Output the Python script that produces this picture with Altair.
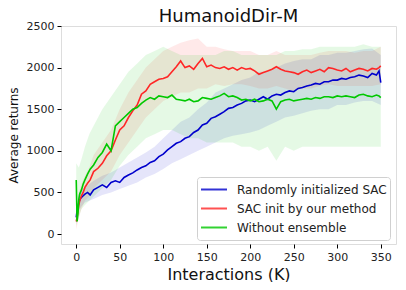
import altair as alt
import pandas as pd

SERIES = ["Randomly initialized SAC", "SAC init by our method", "Without ensemble"]
COLORS = ["#0000cc", "#ff2626", "#00c800"]

# line x grid (K interactions)
X = [0, 1, 2, 3, 4, 6, 8, 10, 13, 16, 20, 25, 30, 35, 40, 45, 50, 55, 60, 65, 70, 75,
     80, 85, 90, 95, 100, 105, 110, 115, 120, 125, 130, 135, 140, 145, 150, 155, 160,
     165, 170, 175, 180, 185, 190, 195, 200, 205, 210, 215, 220, 225, 230, 235, 240,
     245, 250, 255, 260, 265, 270, 275, 280, 285, 290, 295, 300, 305, 310, 315, 320,
     325, 330, 335, 340, 345, 348, 350]

BLUE = [200, 280, 330, 380, 410, 440, 460, 480, 500, 470, 530, 560, 590, 560, 620, 640,
        620, 680, 710, 735, 770, 800, 820, 860, 880, 930, 960, 1010, 1050, 1090, 1110,
        1150, 1170, 1220, 1250, 1310, 1330, 1390, 1410, 1440, 1470, 1510, 1520, 1550,
        1570, 1600, 1610, 1590, 1620, 1650, 1620, 1660, 1680, 1670, 1700, 1720, 1710,
        1750, 1760, 1780, 1790, 1810, 1800, 1830, 1830, 1850, 1850, 1870, 1860, 1880,
        1890, 1910, 1900, 1880, 1930, 1910, 1960, 1820]

RED = [150, 200, 280, 350, 400, 460, 500, 560, 610, 650, 750, 790, 850, 940, 1000, 1130,
       1250, 1300, 1400, 1480, 1550, 1680, 1720, 1800, 1830, 1860, 1870, 1890, 1950,
       2010, 2080, 2000, 2020, 1980, 2050, 2110, 2010, 2030, 2000, 1990, 2010, 1980,
       2000, 1970, 2000, 1980, 1990, 1960, 1920, 1940, 1960, 1980, 2010, 1980, 1960,
       1950, 1940, 1920, 1950, 1970, 1940, 1960, 1980, 1950, 2000, 1990, 1970, 1960,
       1990, 1950, 1970, 1990, 1980, 1960, 1990, 1980, 2000, 2020]

GREEN = [650, 150, 250, 420, 480, 530, 600, 650, 720, 780, 830, 920, 980, 1080, 1000,
         1300, 1350, 1400, 1450, 1500, 1520, 1570, 1610, 1640, 1620, 1660, 1650, 1640,
         1670, 1620, 1610, 1600, 1620, 1590, 1600, 1640, 1630, 1620, 1640, 1660, 1690,
         1650, 1660, 1640, 1610, 1620, 1600, 1620, 1590, 1600, 1620, 1600, 1500, 1590,
         1610, 1620, 1600, 1610, 1620, 1630, 1620, 1640, 1630, 1650, 1650, 1640, 1660,
         1650, 1660, 1650, 1640, 1670, 1680, 1660, 1650, 1670, 1660, 1640]

# band x grid
BX = [0, 3, 6, 10, 15, 20, 30, 40, 50, 60, 70, 80, 90, 100, 110, 120, 130, 140, 150,
      160, 170, 180, 190, 200, 210, 220, 230, 240, 250, 260, 270, 280, 290, 300, 310,
      320, 330, 340, 350]

BLUE_LO = [120, 280, 330, 380, 400, 420, 470, 500, 540, 580, 620, 680, 720, 780, 850,
           900, 950, 1000, 1050, 1100, 1150, 1180, 1200, 1220, 1250, 1300, 1350, 1400,
           1420, 1450, 1480, 1500, 1500, 1550, 1550, 1580, 1600, 1600, 1550]
BLUE_HI = [300, 480, 540, 560, 600, 640, 700, 740, 800, 860, 920, 980, 1050, 1150, 1250,
           1350, 1400, 1500, 1580, 1700, 1750, 1800, 1850, 1880, 1950, 1950, 2000, 2050,
           2080, 2100, 2100, 2150, 2150, 2180, 2180, 2200, 2220, 2230, 2150]

RED_LO = [50, 200, 300, 400, 450, 550, 650, 750, 950, 1100, 1250, 1400, 1500, 1600, 1650,
          1700, 1700, 1750, 1750, 1800, 1780, 1800, 1800, 1780, 1750, 1750, 1780, 1750,
          1720, 1750, 1750, 1780, 1800, 1780, 1780, 1780, 1780, 1780, 1800]
RED_HI = [300, 500, 600, 700, 800, 950, 1100, 1250, 1500, 1700, 1850, 2000, 2100, 2200,
          2250, 2300, 2330, 2350, 2250, 2250, 2220, 2200, 2200, 2200, 2150, 2150, 2200,
          2150, 2150, 2150, 2150, 2180, 2200, 2200, 2200, 2180, 2200, 2200, 2250]

GREEN_LO = [100, 200, 300, 350, 400, 450, 550, 650, 820, 950, 1050, 1150, 1200, 1250,
            1250, 1200, 1150, 1150, 1100, 1100, 1100, 1100, 1050, 1050, 1000, 1050, 880,
            1050, 1000, 1050, 1050, 1050, 1050, 1050, 1050, 1050, 1050, 1050, 1050]
GREEN_HI = [850, 800, 900, 1050, 1200, 1300, 1500, 1650, 1800, 1950, 2050, 2150, 2200,
            2250, 2200, 2150, 2150, 2150, 2150, 2150, 2200, 2200, 2150, 2150, 2150, 2150,
            2150, 2200, 2200, 2220, 2220, 2250, 2250, 2250, 2250, 2250, 2280, 2250, 2250]

lines = pd.concat([
    pd.DataFrame({"x": X, "v": vals, "series": s})
    for s, vals in zip(SERIES, [BLUE, RED, GREEN])
])
bands = pd.concat([
    pd.DataFrame({"x": BX, "lo": lo, "hi": hi, "series": s})
    for s, lo, hi in zip(SERIES, [BLUE_LO, RED_LO, GREEN_LO], [BLUE_HI, RED_HI, GREEN_HI])
])

FONT = "DejaVu Sans"
xscale = alt.Scale(domain=[-17.5, 367.5], nice=False, zero=False)
yscale = alt.Scale(domain=[-120, 2500], nice=False, zero=False)

legend = alt.Legend(title=None, orient="none", legendX=136, legendY=151,
                    symbolType="stroke", symbolSize=676,
                    symbolStrokeWidth=2, symbolOpacity=0.8,
                    clipHeight=19, labelOffset=9, padding=3,
                    strokeColor="#d0d0d0", fillColor="#ffffff",
                    cornerRadius=3, labelFontSize=12, labelFont=FONT,
                    labelColor="#222", rowPadding=0, labelLimit=300)
cscale = alt.Scale(domain=SERIES, range=COLORS)

xaxis = alt.Axis(values=list(range(0, 351, 50)), title="Interactions (K)", grid=False,
                 domain=False, tickColor="#000", tickSize=4, labelPadding=3,
                 labelFontSize=11, labelFont=FONT, labelColor="#222", format="d",
                 titleFontSize=16, titleFont=FONT, titleFontWeight="normal",
                 titleColor="#111", titlePadding=4, labelFlush=False)
yaxis = alt.Axis(values=list(range(0, 2501, 500)), title="Average returns", grid=False,
                 domain=False, tickColor="#000", tickSize=4, labelPadding=3,
                 labelFontSize=11, labelFont=FONT, labelColor="#222", format="d",
                 titleFontSize=12, titleFont=FONT, titleFontWeight="normal",
                 titleColor="#111", titlePadding=6, labelFlush=False)

band = alt.Chart(bands).mark_area(opacity=0.1, clip=True).encode(
    x=alt.X("x:Q", scale=xscale, axis=xaxis),
    y=alt.Y("lo:Q", scale=yscale, axis=yaxis),
    y2="hi:Q",
    color=alt.Color("series:N", scale=cscale, sort=SERIES, legend=legend),
    detail="series:N",
)

line = alt.Chart(lines).mark_line(strokeWidth=1.6, clip=True).encode(
    x=alt.X("x:Q", scale=xscale),
    y=alt.Y("v:Q", scale=yscale),
    color=alt.Color("series:N", scale=cscale, sort=SERIES, legend=legend),
    order=alt.Order("x:Q"),
)

chart = alt.layer(band, line).properties(
    width=335, height=218,
    title=alt.Title("HumanoidDir-M", fontSize=18, font=FONT, fontWeight="normal",
                    color="#111", offset=-6),
    autosize=alt.AutoSizeParams(type="none"),
    padding={"left": 53, "top": 18, "right": 2, "bottom": 38},
).configure_view(stroke="#000", strokeWidth=1).configure(background="white")

chart.save("out.html", embed_options={"renderer": "svg", "actions": False})
